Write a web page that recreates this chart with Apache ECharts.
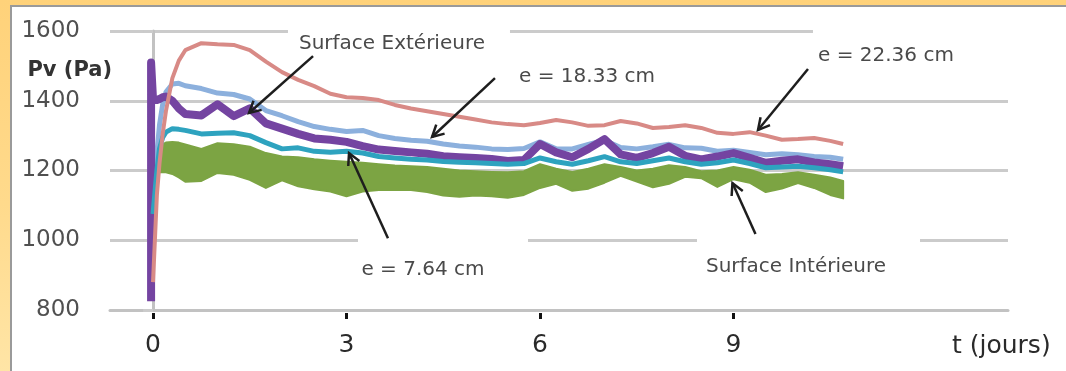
<!DOCTYPE html>
<html>
<head>
<meta charset="utf-8">
<script src="https://cdn.jsdelivr.net/npm/echarts@6/dist/echarts.min.js"></script>
<style>
  html, body { margin: 0; padding: 0; width: 1066px; height: 371px; overflow: hidden;
    background: linear-gradient(180deg, #FFD27A 0%, #FFDA8C 55%, #FFE5A6 100%); }
  #frame { position: absolute; left: 10px; top: 5px; right: 0; bottom: 0; background: #fff;
    border-left: 2px solid #9a9a9a; border-top: 2px solid #9a9a9a; }
  #chart { position: absolute; left: 12px; top: 7px; width: 1054px; height: 364px; }
</style>
</head>
<body>
<div id="frame"></div>
<div id="chart"></div>
<script>
// Time in days
const days = [-0.03, -0.03, 0, 0.06, 0.1, 0.15, 0.2, 0.3, 0.4, 0.5,
  0.75, 1, 1.25, 1.5, 1.75, 2, 2.25, 2.5, 2.75, 3,
  3.25, 3.5, 3.75, 4, 4.25, 4.5, 4.75, 5, 5.25, 5.5,
  5.75, 6, 6.25, 6.5, 6.75, 7, 7.25, 7.5, 7.75, 8,
  8.25, 8.5, 8.75, 9, 9.25, 9.5, 9.75, 10, 10.25, 10.5, 10.7];

// Vapour pressure Pv (Pa) at the different depths
const e2236 = [null, null, 880, 1130, 1220, 1305, 1370, 1465, 1515, 1545,
  1565, 1562, 1560, 1545, 1512, 1482, 1460, 1442, 1420, 1410,
  1408, 1402, 1388, 1378, 1370, 1362, 1354, 1346, 1338, 1333,
  1330, 1336, 1345, 1338, 1328, 1330, 1342, 1335, 1322, 1325,
  1330, 1322, 1308, 1305, 1310, 1300, 1288, 1290, 1293, 1285, 1276];

const e1833 = [null, null, 1080, 1250, 1330, 1390, 1425, 1448, 1450, 1443,
  1435, 1422, 1418, 1405, 1372, 1357, 1340, 1326, 1318, 1312,
  1315, 1300, 1292, 1287, 1284, 1276, 1270, 1267, 1262, 1260,
  1263, 1282, 1262, 1262, 1275, 1287, 1266, 1262, 1268, 1275,
  1265, 1264, 1255, 1258, 1252, 1245, 1248, 1245, 1240, 1238, 1232];

const surfaceExt = [825, 1510, 1405, 1402, 1405, 1410, 1412, 1400, 1378, 1362,
  1358, 1390, 1356, 1378, 1335, 1320, 1305, 1292, 1288, 1282,
  1270, 1260, 1256, 1252, 1248, 1241, 1238, 1236, 1233, 1227,
  1230, 1276, 1252, 1238, 1262, 1290, 1246, 1236, 1250, 1268,
  1242, 1232, 1240, 1250, 1236, 1222, 1228, 1232, 1223, 1218, 1212];

const e764 = [null, null, 1075, 1200, 1262, 1295, 1310, 1320, 1318, 1315,
  1305, 1307, 1308, 1300, 1280, 1262, 1265, 1255, 1252, 1255,
  1250, 1240, 1236, 1232, 1230, 1226, 1224, 1222, 1220, 1218,
  1220, 1236, 1225, 1218, 1228, 1240, 1225, 1220, 1228, 1236,
  1225, 1218, 1222, 1230, 1220, 1208, 1210, 1212, 1208, 1202, 1196];

// Inner surface: noisy signal drawn as an envelope (upper / lower)
const surfaceIntHigh = [null, null, null, null, 1255, 1275, 1280, 1282, 1280, 1275,
  1262, 1278, 1275, 1268, 1250, 1240, 1238, 1232, 1228, 1225,
  1222, 1218, 1214, 1212, 1210, 1205, 1200, 1198, 1196, 1195,
  1198, 1218, 1205, 1196, 1205, 1218, 1210, 1200, 1205, 1215,
  1210, 1198, 1200, 1210, 1202, 1188, 1190, 1195, 1188, 1180, 1170];

const surfaceIntLow = [null, null, null, null, 1195, 1196, 1195, 1190, 1180, 1168,
  1170, 1193, 1188, 1173, 1150, 1172, 1155, 1146, 1140, 1126,
  1140, 1144, 1144, 1144, 1138, 1128, 1125, 1128, 1126, 1122,
  1130, 1150, 1162, 1142, 1148, 1165, 1185, 1168, 1152, 1162,
  1182, 1178, 1153, 1175, 1165, 1138, 1148, 1164, 1150, 1130, 1120];

const xTickValues = [0, 3, 6, 9];
const yTicks = { min: 800, max: 1600, step: 200 };

// Annotations: text anchor in data space, white box offsets [left, right, top, bottom] in px
const labels = [
  { t: 3.705, v: 1563, text: 'Surface Extérieure', box: [-104, 118, -18, 12] },
  { t: 6.729, v: 1468, text: 'e = 18.33 cm', box: null },
  { t: 11.364, v: 1528, text: 'e = 22.36 cm', box: [-73, 126, -32, 14] },
  { t: 4.186, v: 915, text: 'e = 7.64 cm', box: [-65, 105, -34, 12] },
  { t: 9.969, v: 923, text: 'Surface Intérieure', box: [-99, 124, -32, 12] }
];
// Arrows: tail -> tip in data space
const arrows = [
  [[2.481, 1528], [1.488, 1365]],
  [[5.302, 1465], [4.326, 1296]],
  [[10.155, 1491], [9.380, 1316]],
  [[3.643, 1006], [3.039, 1250]],
  [[9.341, 1018], [8.984, 1164]]
];

function pairs(vals) {
  return days.map((d, i) => [d, vals[i]]).filter(p => p[1] != null);
}
const band = days.map((d, i) => [d, surfaceIntLow[i], surfaceIntHigh[i]]).filter(p => p[1] != null);

const xMin = -0.667, xMax = 13.256;
const gridCol = '#cbcbcb';
const axisFont = { fontFamily: 'DejaVu Sans', fontSize: 25, color: '#2a2a2a' };
const chart = echarts.init(document.getElementById('chart'), null, { renderer: 'canvas' });

chart.setOption({
  animation: false,
  backgroundColor: '#fff',
  grid: { left: 98, right: 58, top: 24, bottom: 61, containLabel: false },
  xAxis: [
    {
      type: 'value', min: xMin, max: xMax,
      axisLine: { show: true, lineStyle: { color: '#c2c2c2', width: 3 } },
      axisTick: { show: false }, axisLabel: { show: false }, splitLine: { show: false }
    },
    {
      // day ticks and labels, drawn just under the frame
      type: 'value', min: xMin, max: xMax, position: 'bottom', offset: 3,
      axisLine: { show: false },
      axisTick: { show: true, customValues: xTickValues, length: 6, lineStyle: { color: '#111', width: 3 } },
      axisLabel: Object.assign({ show: true, customValues: xTickValues, margin: 20 }, axisFont),
      splitLine: { show: false }
    },
    {
      // axis title row
      type: 'value', min: xMin, max: xMax, position: 'bottom', offset: 36,
      axisLine: { show: false }, axisTick: { show: false }, axisLabel: { show: false },
      splitLine: { show: false },
      name: 't (jours)', nameLocation: 'end', nameGap: -56,
      nameTextStyle: Object.assign({ align: 'left', verticalAlign: 'middle' }, axisFont)
    }
  ],
  yAxis: {
    type: 'value', min: yTicks.min, max: yTicks.max, interval: yTicks.step,
    axisLine: { show: true, lineStyle: { color: '#c2c2c2', width: 3 } },
    axisTick: { show: true, length: 10, lineStyle: { color: gridCol, width: 3 } },
    splitLine: { show: true, lineStyle: { color: gridCol, width: 3 } },
    axisLabel: { margin: 30, fontFamily: 'DejaVu Sans', fontSize: 23, color: '#505050',
      formatter: v => String(v) }
  },
  series: [
    {
      name: 'Surface Intérieure', type: 'custom', xAxisIndex: 0, yAxisIndex: 0,
      data: band, encode: { x: 0, y: [1, 2] },
      renderItem: function (params, api) {
        if (params.dataIndex !== 0) return null;
        const top = band.map(p => api.coord([p[0], p[2]]));
        const bot = band.map(p => api.coord([p[0], p[1]])).reverse();
        return {
          type: 'polygon',
          shape: { points: top.concat(bot) },
          style: { fill: '#7CA443', stroke: '#7CA443', lineWidth: 2, lineJoin: 'round' }
        };
      }
    },
    {
      name: 'e = 18.33 cm', type: 'line', data: pairs(e1833), showSymbol: false,
      lineStyle: { color: '#8CB0DD', width: 5 }, itemStyle: { color: '#8CB0DD' }
    },
    {
      name: 'Surface Extérieure', type: 'line', data: pairs(surfaceExt), showSymbol: false,
      lineStyle: { color: '#7444A1', width: 8, join: 'round' }, itemStyle: { color: '#7444A1' }
    },
    {
      name: 'e = 7.64 cm', type: 'line', data: pairs(e764), showSymbol: false,
      lineStyle: { color: '#2EA3BF', width: 5 }, itemStyle: { color: '#2EA3BF' }
    },
    {
      name: 'e = 22.36 cm', type: 'line', data: pairs(e2236), showSymbol: false,
      lineStyle: { color: '#D88A86', width: 4 }, itemStyle: { color: '#D88A86' }
    }
  ]
});

// Axis title, annotation boxes, labels and arrows placed through the axes
const toPx = p => chart.convertToPixel({ xAxisIndex: 0, yAxisIndex: 0 }, p);
const graphics = [];
const [axX, axTop] = toPx([xMin, yTicks.max]);
graphics.push({
  type: 'text', z: 95, x: axX + 2, y: axTop + 40,
  style: { text: 'Pv (Pa)', font: 'bold 21px "DejaVu Sans"', fill: '#333',
    textAlign: 'right', textVerticalAlign: 'middle' }
});
labels.forEach(l => {
  const [px, py] = toPx([l.t, l.v]);
  if (l.box) {
    graphics.push({
      type: 'rect', z: 90,
      shape: { x: px + l.box[0], y: py + l.box[2], width: l.box[1] - l.box[0], height: l.box[3] - l.box[2] },
      style: { fill: '#fff' }
    });
  }
  graphics.push({
    type: 'text', z: 95, x: px, y: py,
    style: { text: l.text, font: '20px "DejaVu Sans"', fill: '#4a4a4a',
      textAlign: 'center', textVerticalAlign: 'middle' }
  });
});
arrows.forEach(a => {
  const [x1, y1] = toPx(a[0]);
  const [x2, y2] = toPx(a[1]);
  const len = Math.hypot(x2 - x1, y2 - y1);
  const ux = (x2 - x1) / len, uy = (y2 - y1) / len;
  const L = 13, ang = 28 * Math.PI / 180;
  const c = Math.cos(ang), s = Math.sin(ang);
  const lx = x2 - L * (ux * c - uy * s), ly = y2 - L * (ux * s + uy * c);
  const rx = x2 - L * (ux * c + uy * s), ry = y2 - L * (-ux * s + uy * c);
  graphics.push({
    type: 'line', z: 100,
    shape: { x1: x1, y1: y1, x2: x2, y2: y2 },
    style: { stroke: '#1e1e1e', lineWidth: 2.5 }
  });
  graphics.push({
    type: 'polyline', z: 100,
    shape: { points: [[lx, ly], [x2, y2], [rx, ry]] },
    style: { stroke: '#1e1e1e', lineWidth: 2.5, fill: null, lineJoin: 'miter' }
  });
});
chart.setOption({ graphic: { elements: graphics } });
</script>
</body>
</html>
